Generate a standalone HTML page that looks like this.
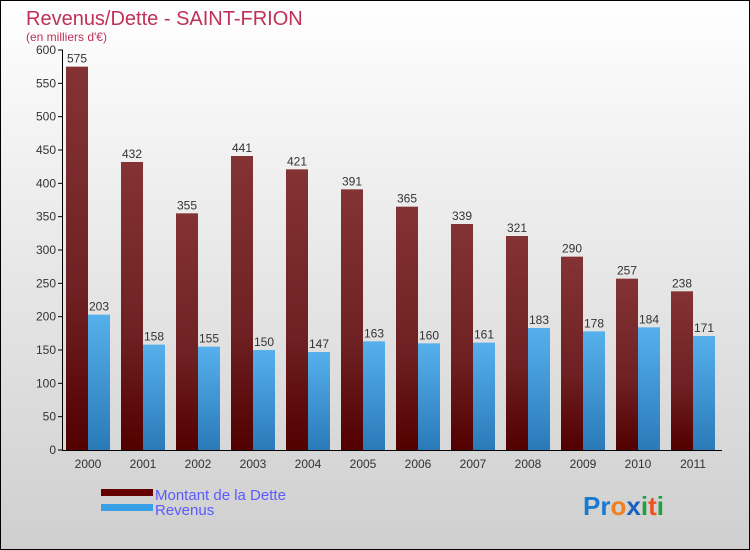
<!DOCTYPE html>
<html><head><meta charset="utf-8"><style>
body{margin:0}
#c{width:748px;height:548px;border:1px solid #000;background:linear-gradient(#fff,#f0f0f0 30%,#cfcfcf);position:relative;font-family:"Liberation Sans",sans-serif;overflow:hidden}
</style></head><body>
<div id="c">
<svg width="748" height="548">
<defs>
<linearGradient id="gd" x1="0" y1="0" x2="0" y2="1"><stop offset="0" stop-color="#843334"/><stop offset="0.6" stop-color="#6e2022"/><stop offset="1" stop-color="#520000"/></linearGradient>
<linearGradient id="gr" x1="0" y1="0" x2="0" y2="1"><stop offset="0" stop-color="#56b0ec"/><stop offset="1" stop-color="#2a7ab8"/></linearGradient>
</defs>
<text x="25" y="24" font-size="20" fill="#c0305a">Revenus/Dette - SAINT-FRION</text>
<text x="25" y="40" font-size="12" fill="#c0305a">(en milliers d'€)</text>
<g id="plot"></g>
<rect x="100" y="488" width="52" height="7" fill="#640000"/>
<rect x="100" y="503" width="52" height="7" fill="#3aa0e6"/>
<text x="154" y="499" font-size="15" fill="#5a5aff">Montant de la Dette</text>
<text x="154" y="514" font-size="15" fill="#5a5aff">Revenus</text>
<text x="582" y="514" font-size="26" font-weight="bold"><tspan fill="#1a7ad0">Pr</tspan><tspan fill="#f08020">o</tspan><tspan fill="#1a60c0">x</tspan><tspan fill="#20a040">i</tspan><tspan fill="#f05020">t</tspan><tspan fill="#20a040">i</tspan></text>
</svg></div>
<script>
const categories=["2000","2001","2002","2003","2004","2005","2006","2007","2008","2009","2010","2011"];
const dette=[575,432,355,441,421,391,365,339,321,290,257,238];
const revenus=[203,158,155,150,147,163,160,161,183,178,184,171];
const yTicks=[0,50,100,150,200,250,300,350,400,450,500,550,600];
const NS="http://www.w3.org/2000/svg";
const g=document.getElementById('plot');
const y=v=>449-v*400/600;
const x0=i=>65+i*55;
function mk(t,a){const e=document.createElementNS(NS,t);for(const k in a)e.setAttribute(k,a[k]);g.appendChild(e);return e;}
yTicks.forEach(v=>{
 const l=mk('line',{x1:57,x2:62,y1:y(v),y2:y(v),stroke:'#000'});
 
 
 const t=mk('text',{x:55,y:y(v)+4,'font-size':12,fill:'#333','text-anchor':'end'});t.textContent=v;
 
 
});
categories.forEach((c,i)=>{
 const b1=mk('rect',{x:x0(i),y:y(dette[i]),width:22,height:y(0)-y(dette[i]),fill:'url(#gd)'});
 
 
 const b2=mk('rect',{x:x0(i)+22,y:y(revenus[i]),width:22,height:y(0)-y(revenus[i]),fill:'url(#gr)'});
 
 
 const t1=mk('text',{x:x0(i)+11,y:y(dette[i])-4,'font-size':12,fill:'#333','text-anchor':'middle'});t1.textContent=dette[i];
 
 
 const t2=mk('text',{x:x0(i)+33,y:y(revenus[i])-4,'font-size':12,fill:'#333','text-anchor':'middle'});t2.textContent=revenus[i];
 
 
 const xl=mk('text',{x:x0(i)+22,y:467,'font-size':12,fill:'#333','text-anchor':'middle'});xl.textContent=c;
 
 
});
const ya=mk('line',{x1:61.5,x2:61.5,y1:y(600),y2:y(0),stroke:'#000'});


const xa=mk('line',{x1:61,x2:721,y1:y(0)+0.5,y2:y(0)+0.5,stroke:'#000'});


</script>
</body></html>
